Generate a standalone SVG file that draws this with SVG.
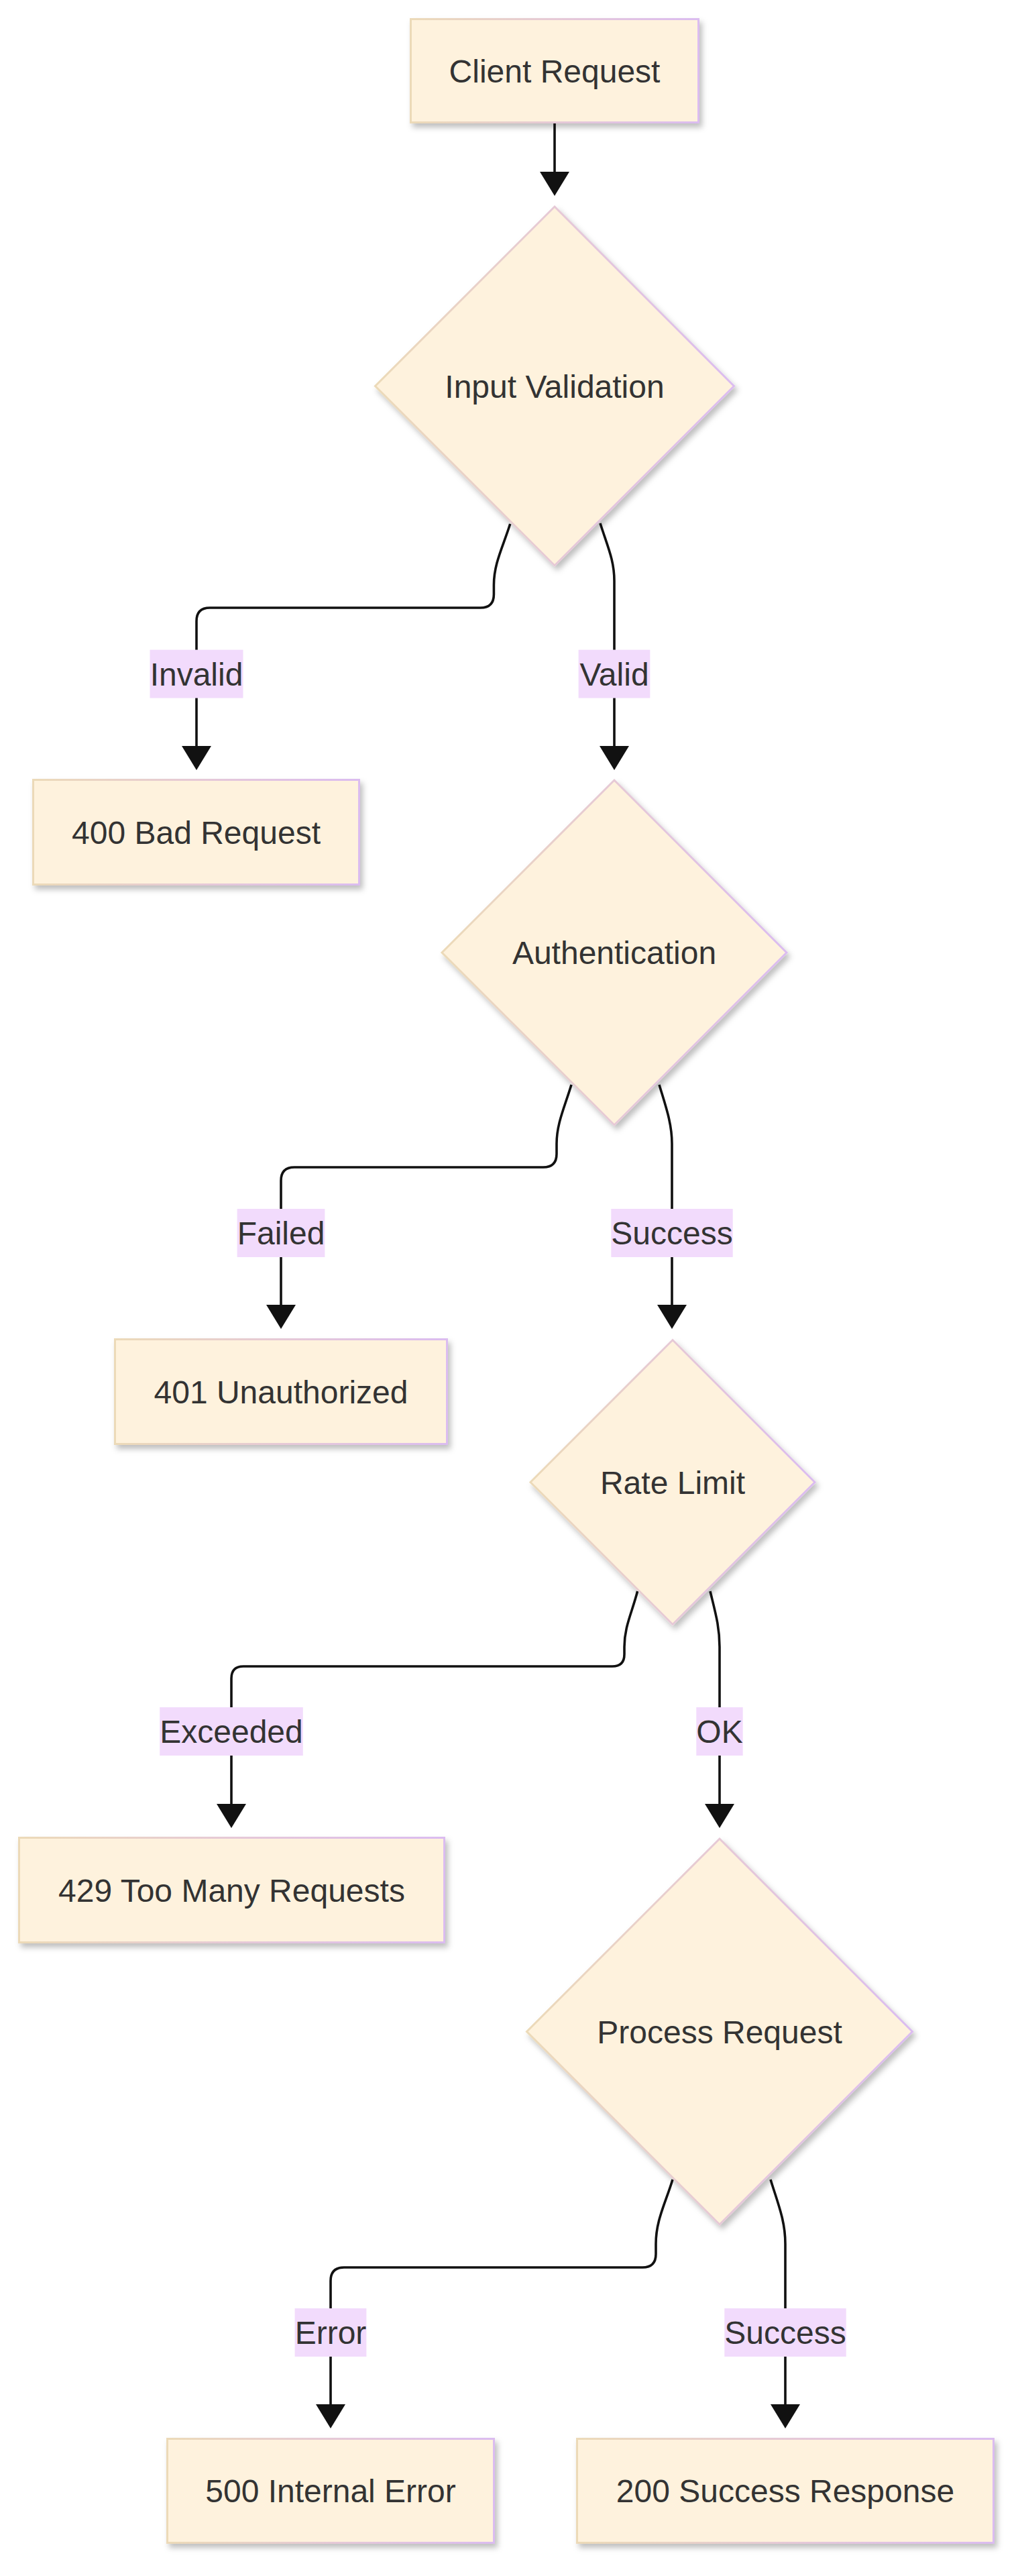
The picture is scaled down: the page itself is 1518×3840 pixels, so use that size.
<svg xmlns="http://www.w3.org/2000/svg" width="1518" height="3840" viewBox="0 0 1518 3840">
<style>
.node{fill:#fef2dd;stroke:url(#nodeStroke);stroke-width:3;filter:url(#shadow)}
.ntxt{font-family:"Liberation Sans",Arial,sans-serif;font-size:48px;fill:#333333;text-anchor:middle}
.edge{fill:none;stroke:#111111;stroke-width:3.6;marker-end:url(#arrow)}
.lbl{fill:#f2dbfc}
.ltxt{font-family:"Liberation Sans",Arial,sans-serif;font-size:48px;fill:#333333;text-anchor:middle}
</style>
<defs>
<linearGradient id="nodeStroke" x1="0" y1="0" x2="1" y2="0">
<stop offset="0" stop-color="#ecdab8"/>
<stop offset="0.5" stop-color="#e6c9d6"/>
<stop offset="1" stop-color="#dbbcf0"/>
</linearGradient>
<filter id="shadow" x="-10%" y="-10%" width="125%" height="130%">
<feDropShadow dx="4" dy="6" stdDeviation="4" flood-color="#000000" flood-opacity="0.25"/>
</filter>
<marker id="arrow" markerUnits="userSpaceOnUse" viewBox="0 0 36 44" refX="0" refY="22" markerWidth="36" markerHeight="44" orient="auto">
<path d="M0,0 L36,22 L0,44 z" fill="#111111"/>
</marker>
</defs>
<rect width="1518" height="3840" fill="#ffffff"/>

<g id="connectors">
<path class="edge" d="M827,184 L827,256"/>
<path class="edge" d="M760.7,781 C750,815 736.4,840 736.4,872 L736.4,886 Q736.4,906 716.4,906 L313,906 Q293,906 293,926 L293,1112"/>
<path class="edge" d="M895,780 C906,815 916,835 916,866 L916,1112"/>
<path class="edge" d="M852,1617 C842,1650 830,1675 830,1705 L830,1720 Q830,1740 810,1740 L439,1740 Q419,1740 419,1760 L419,1945"/>
<path class="edge" d="M983,1617 C993,1650 1002,1675 1002,1705 L1002,1945"/>
<path class="edge" d="M950.6,2372 C942,2405 931,2425 931,2455 L931,2466 Q931,2484 913,2484 L363,2484 Q345,2484 345,2502 L345,2689"/>
<path class="edge" d="M1059,2372 C1067,2405 1073,2425 1073,2455 L1073,2689"/>
<path class="edge" d="M1003,3249 C992,3285 978,3310 978,3345 L978,3360 Q978,3380 958,3380 L513,3380 Q493,3380 493,3400 L493,3584"/>
<path class="edge" d="M1149,3249 C1160,3285 1171,3310 1171,3345 L1171,3584"/>
<g id="edge-labels">
<rect class="lbl" x="223.5" y="968.6" width="139" height="72"/>
<text class="ltxt" x="293" y="1021.6">Invalid</text>
<rect class="lbl" x="862.6" y="968.6" width="106.8" height="72"/>
<text class="ltxt" x="916" y="1021.6">Valid</text>
<rect class="lbl" x="353.6" y="1802" width="130.8" height="72"/>
<text class="ltxt" x="419" y="1855">Failed</text>
<rect class="lbl" x="911.3" y="1802" width="181.4" height="72"/>
<text class="ltxt" x="1002" y="1855">Success</text>
<rect class="lbl" x="238.2" y="2545" width="213.6" height="72"/>
<text class="ltxt" x="345" y="2598">Exceeded</text>
<rect class="lbl" x="1038.3" y="2545" width="69.4" height="72"/>
<text class="ltxt" x="1073" y="2598">OK</text>
<rect class="lbl" x="439.6" y="3441" width="106.8" height="72"/>
<text class="ltxt" x="493" y="3494">Error</text>
<rect class="lbl" x="1080.3" y="3441" width="181.4" height="72"/>
<text class="ltxt" x="1171" y="3494">Success</text>
</g>
</g>

<g id="client-request">
<rect class="node" x="612.5" y="28.5" width="429" height="154"/>
<text class="ntxt" x="827" y="122.5">Client Request</text>
</g>
<g id="input-validation">
<polygon class="node" points="827,308 1094.5,575.5 827,843 559.5,575.5"/>
<text class="ntxt" x="827" y="592.5">Input Validation</text>
</g>
<g id="bad-request-400">
<rect class="node" x="49.5" y="1162.5" width="486" height="156"/>
<text class="ntxt" x="292.5" y="1257.5">400 Bad Request</text>
</g>
<g id="authentication">
<polygon class="node" points="916,1163 1173,1420 916,1677 659,1420"/>
<text class="ntxt" x="916" y="1437">Authentication</text>
</g>
<g id="unauthorized-401">
<rect class="node" x="171.5" y="1996.5" width="495" height="156"/>
<text class="ntxt" x="419" y="2091.5">401 Unauthorized</text>
</g>
<g id="rate-limit">
<polygon class="node" points="1003,1997.5 1215,2209.5 1003,2421.5 791,2209.5"/>
<text class="ntxt" x="1003" y="2226.5">Rate Limit</text>
</g>
<g id="too-many-requests-429">
<rect class="node" x="28.5" y="2739.5" width="634" height="156"/>
<text class="ntxt" x="345.5" y="2834.5">429 Too Many Requests</text>
</g>
<g id="process-request">
<polygon class="node" points="1073,2741 1360.5,3028.5 1073,3316 785.5,3028.5"/>
<text class="ntxt" x="1073" y="3045.5">Process Request</text>
</g>
<g id="internal-error-500">
<rect class="node" x="249.5" y="3635.5" width="487" height="155"/>
<text class="ntxt" x="493" y="3730">500 Internal Error</text>
</g>
<g id="success-response-200">
<rect class="node" x="860.5" y="3635.5" width="621" height="155"/>
<text class="ntxt" x="1171" y="3730">200 Success Response</text>
</g>
</svg>
